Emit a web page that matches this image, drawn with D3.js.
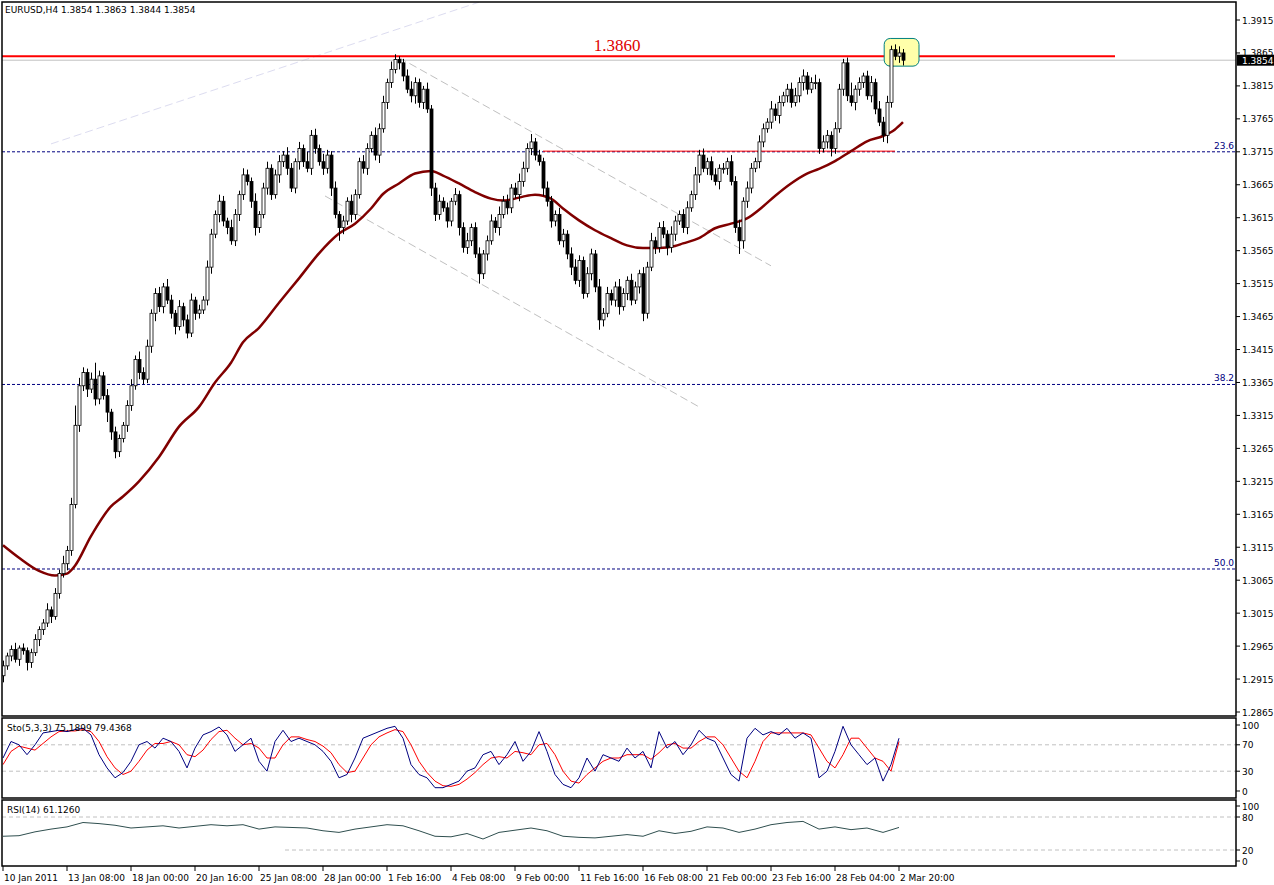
<!DOCTYPE html>
<html><head><meta charset="utf-8">
<script src="https://cdn.jsdelivr.net/npm/d3@7"></script>
<style>body{margin:0;background:#fff}svg{display:block;font-family:Tahoma,"DejaVu Sans",sans-serif}</style>
</head><body>
<script>
const closes = [
1.2935,1.2950,1.2960,1.2945,1.2962,1.2958,1.2940,1.2955,1.2975,1.2990,
1.3000,1.3020,1.3010,1.3045,1.3075,1.3090,1.3110,1.3180,1.3300,1.3360,
1.3380,1.3355,1.3370,1.3340,1.3375,1.3345,1.3320,1.3290,1.3260,1.3280,
1.3300,1.3330,1.3360,1.3400,1.3380,1.3370,1.3420,1.3470,1.3500,1.3480,
1.3510,1.3490,1.3470,1.3450,1.3480,1.3460,1.3440,1.3490,1.3470,1.3475,
1.3490,1.3540,1.3590,1.3620,1.3640,1.3610,1.3600,1.3580,1.3620,1.3650,
1.3680,1.3670,1.3640,1.3600,1.3620,1.3660,1.3690,1.3650,1.3680,1.3700,
1.3710,1.3690,1.3660,1.3700,1.3720,1.3700,1.3690,1.3740,1.3720,1.3700,
1.3690,1.3710,1.3660,1.3620,1.3600,1.3610,1.3640,1.3620,1.3650,1.3700,
1.3690,1.3720,1.3740,1.3710,1.3750,1.3790,1.3820,1.3840,1.3855,1.3850,
1.3830,1.3810,1.3800,1.3820,1.3790,1.3810,1.3780,1.3660,1.3620,1.3640,
1.3630,1.3610,1.3640,1.3650,1.3600,1.3570,1.3580,1.3600,1.3560,1.3530,
1.3560,1.3580,1.3610,1.3600,1.3620,1.3640,1.3630,1.3660,1.3650,1.3670,
1.3690,1.3720,1.3730,1.3710,1.3700,1.3660,1.3640,1.3610,1.3620,1.3580,
1.3590,1.3560,1.3540,1.3520,1.3550,1.3500,1.3530,1.3560,1.3510,1.3460,
1.3470,1.3500,1.3490,1.3510,1.3480,1.3500,1.3520,1.3490,1.3510,1.3530,
1.3470,1.3540,1.3580,1.3570,1.3600,1.3590,1.3570,1.3590,1.3610,1.3620,
1.3600,1.3630,1.3650,1.3680,1.3710,1.3690,1.3700,1.3680,1.3670,1.3690,
1.3690,1.3700,1.3670,1.3600,1.3580,1.3640,1.3660,1.3690,1.3700,1.3730,
1.3750,1.3760,1.3780,1.3770,1.3790,1.3800,1.3810,1.3790,1.3800,1.3820,
1.3830,1.3810,1.3820,1.3820,1.3720,1.3730,1.3740,1.3720,1.3750,1.3810,
1.3850,1.3800,1.3790,1.3810,1.3820,1.3830,1.3800,1.3820,1.3780,1.3760,
1.3740,1.3790,1.3870,1.3860,1.3865,1.3854];
const firstOpen = 1.2920;
// wick lengths above / below the body, in pips
const wickHi = [
8,5,6,10,4,7,5,6,8,5, 6,10,5,8,6,12,7,10,30,12, 8,6,10,25,8,6,10,5,8,6,
5,8,10,6,12,8,10,6,8,10, 6,12,8,5,10,6,8,10,5,8, 6,10,8,6,10,8,5,12,8,6,
10,8,6,12,5,8,10,6,8,10, 6,12,8,5,10,6,15,8,10,6, 12,8,6,10,5,8,6,10,8,6,
10,8,6,12,8,10,6,12,8,5, 6,10,12,8,6,5,10,6,8,10, 6,8,5,10,6,8,12,6,8,10,
6,8,10,6,12,8,10,6,8,12, 10,8,12,6,8,6,10,8,6,10, 8,6,10,12,8,6,10,8,6,12,
8,10,6,8,12,8,6,10,8,6, 10,8,12,6,8,10,6,12,8,6, 8,10,6,12,8,10,6,8,10,6,
8,6,10,8,12,6,10,8,6,10, 8,6,12,8,10,6,8,10,12,8, 10,6,8,12,6,10,8,6,10,8,
6,8,20,6,8,5, 8,10,6,12,8,10,6,8,10,6, 8,6,10,8,12,6,10,8,6,10,
8,6,12,8,10,6,8,10,12,8, 10,6,8,12,6,10,8,6,10,8, 6,8,30,10,8,5];
const wickLo = [
10,6,8,5,10,6,12,8,5,10, 8,6,10,5,8,6,10,8,6,10, 8,12,6,10,8,6,15,12,10,8,
6,10,8,6,10,8,6,10,12,8, 10,6,8,12,6,10,8,6,10,8, 6,8,10,6,12,8,10,6,8,10,
8,6,10,12,8,6,10,8,6,12, 8,10,6,8,12,8,6,10,8,6, 10,8,12,6,20,10,6,12,8,6,
8,10,6,8,12,6,10,8,6,10, 8,6,10,12,8,10,6,12,10,8, 6,10,8,6,12,8,10,8,6,15,
8,10,6,8,12,6,10,8,6,10, 8,6,10,8,6,12,8,10,8,6, 10,8,12,6,10,8,6,10,8,15,
10,6,8,10,12,6,10,8,6,10, 12,8,6,10,8,6,12,8,10,6, 8,10,6,8,12,6,10,8,6,12,
8,10,6,8,20,12,10,8,6,10, 8,6,10,8,12,6,10,8,6,10, 12,8,6,10,8,6,10,12,8,6,
10,8,6,12,10,8,6,10,8,6, 10,12,8,6,10,8,6,8,12,8, 12,10,8,6,8,6,10,8,6,12,
8,10,8,10,8,8];
// moving average, [candle index, value]
const maIdx = [0,4,9,13,16,18,22,27,30,34,39,44,49,53,57,60,64,69,74,79,84,88,92,95,99,103,107,110,114,118,122,125,128,130,133,137,140,144,148,152,156,160,164,168,170,174,178,182,186,190,193,197,201,204,208,212,216,220,223,225];
const maVal = [1.3118,1.3099,1.3079,1.3072,1.3075,1.3087,1.3132,1.3177,1.3192,1.3215,1.3252,1.3298,1.3328,1.3365,1.3395,1.3426,1.3448,1.3486,1.3523,1.3561,1.3591,1.3606,1.3629,1.3651,1.3667,1.3682,1.3686,1.3679,1.3667,1.3654,1.3644,1.3641,1.3644,1.3647,1.3650,1.3644,1.3629,1.3611,1.3596,1.3584,1.3573,1.3569,1.3569,1.3572,1.3576,1.3584,1.3599,1.3606,1.3614,1.3632,1.3648,1.3667,1.3682,1.3689,1.3701,1.3716,1.3731,1.3739,1.3749,1.3760];
// stochastic, one value every 2 candles
const stoMain = [50,75,70,55,70,88,90,92,90,93,95,85,55,35,20,28,45,70,75,65,80,75,60,35,65,85,90,97,85,60,70,80,45,30,75,92,75,80,75,70,60,45,20,25,50,80,85,90,95,98,80,40,25,20,5,5,10,15,30,35,55,60,40,55,75,45,60,90,60,25,10,5,20,50,30,55,50,45,65,50,60,35,90,65,75,55,70,92,80,75,50,25,15,80,95,85,90,85,95,80,88,80,20,30,60,98,70,55,40,50,15,40,80];
const stoSig = [40,60,68,65,62,72,82,90,91,91,93,90,75,52,35,25,30,45,62,72,72,75,70,55,52,62,78,90,92,80,70,72,65,50,50,70,82,82,78,75,68,58,40,28,30,50,70,82,88,93,90,70,45,28,15,8,7,10,18,28,40,50,52,50,60,58,55,70,72,55,30,15,12,25,35,45,50,50,55,55,55,48,58,70,72,65,65,75,82,82,70,50,30,20,45,75,88,88,88,88,88,85,65,45,35,55,80,80,65,50,45,30,75];
// RSI(14), one value every 4 candles
const rsiVals = [45,46,53,58,62,70,68,65,60,62,64,60,63,66,64,66,58,62,61,60,55,52,58,62,66,64,55,45,44,50,40,52,56,60,55,45,43,42,45,48,45,55,50,54,62,60,52,58,66,70,72,58,62,57,60,52,61];
const priceTicks = [1.3915,1.3865,1.3815,1.3765,1.3715,1.3665,1.3615,1.3565,1.3515,1.3465,1.3415,1.3365,1.3315,1.3265,1.3215,1.3165,1.3115,1.3065,1.3015,1.2965,1.2915,1.2865];
const timeLabels = ["10 Jan 2011","13 Jan 08:00","18 Jan 00:00","20 Jan 16:00","25 Jan 08:00","28 Jan 00:00","1 Feb 16:00","4 Feb 08:00","9 Feb 00:00","11 Feb 16:00","16 Feb 08:00","21 Feb 00:00","23 Feb 16:00","28 Feb 04:00","2 Mar 20:00"];
const fibLevels = [{v:1.3715,t:"23.6"},{v:1.3362,t:"38.2"},{v:1.3082,t:"50.0"}];
const trendLines = [
  {a:[99,1.3858],b:[192,1.3542],c:"#c0c0c0"},
  {a:[80.5,1.3648],b:[174,1.3328],c:"#c0c0c0"},
  {a:[12,1.3727],b:[119,1.3942],c:"#dcdcf0"}];
const resistance = 1.3860, lastPrice = 1.3854;

const W = 1274, H = 885, R = 1236;
const svg = d3.select("body").append("svg").attr("width", W).attr("height", H);
const x = d3.scaleLinear().domain([0, 308.25]).range([3, R]);
const y = d3.scaleLinear().domain([1.2865, 1.3915]).range([712, 20]);
const yS = d3.scaleLinear().domain([0, 100]).range([791, 725]);
const yR = d3.scaleLinear().domain([0, 100]).range([861, 806]);

const candles = closes.map((c, i) => {
  const o = i ? closes[i-1] : firstOpen;
  return {i, o, c, h: Math.max(o,c) + (wickHi[i] || 6)/10000, l: Math.min(o,c) - (wickLo[i] || 6)/10000};
});

const main = svg.append("g");
main.append("defs").append("clipPath").attr("id","cp").append("rect")
  .attr("x",2).attr("y",2).attr("width",R-2).attr("height",714);
const plot = main.append("g").attr("clip-path","url(#cp)");

// fib levels
plot.selectAll("line.fib").data(fibLevels).join("line")
  .attr("x1",2).attr("x2",R).attr("y1",d=>y(d.v)).attr("y2",d=>y(d.v))
  .attr("stroke","#000080").attr("stroke-dasharray","3,2");
plot.selectAll("text.fib").data(fibLevels).join("text")
  .attr("x",R-2).attr("y",d=>y(d.v)-3).attr("text-anchor","end")
  .attr("font-size",9).attr("fill","#000080").text(d=>d.t);

// trend lines
plot.selectAll("line.tr").data(trendLines).join("line")
  .attr("x1",d=>x(d.a[0])).attr("y1",d=>y(d.a[1])).attr("x2",d=>x(d.b[0])).attr("y2",d=>y(d.b[1]))
  .attr("stroke",d=>d.c).attr("stroke-dasharray","8,4");

// bid line
plot.append("line").attr("x1",2).attr("x2",R).attr("y1",y(lastPrice)).attr("y2",y(lastPrice)).attr("stroke","#c0c0c0");
// resistance
plot.append("line").attr("x1",2).attr("x2",1115).attr("y1",y(resistance)).attr("y2",y(resistance)).attr("stroke","#ff0000").attr("stroke-width",2);
plot.append("line").attr("x1",x(135)).attr("x2",x(223)).attr("y1",y(1.3716)).attr("y2",y(1.3716)).attr("stroke","#ff0000");
plot.append("text").attr("x",617).attr("y",y(resistance)-5).attr("text-anchor","middle")
  .attr("font-family","'Liberation Serif',serif").attr("font-size",17).attr("fill","#e00000").text("1.3860");

// highlight box
plot.append("rect").attr("x",x(220.3)).attr("y",y(1.3887)).attr("width",x(229)-x(220.3)).attr("height",y(1.3845)-y(1.3887))
  .attr("rx",6).attr("fill","#ffffaa").attr("stroke","#008080");

// MA
plot.append("path").datum(maIdx.map((d,k)=>[d,maVal[k]]))
  .attr("d", d3.line().x(d=>x(d[0])).y(d=>y(d[1])).curve(d3.curveMonotoneX))
  .attr("fill","none").attr("stroke","#800000").attr("stroke-width",2.5);

// candles
const cg = plot.selectAll("g.c").data(candles).join("g");
cg.append("line").attr("x1",d=>x(d.i)+0.5).attr("x2",d=>x(d.i)+0.5).attr("y1",d=>y(d.h)).attr("y2",d=>y(d.l)).attr("stroke","#000");
cg.append("rect").attr("x",d=>x(d.i)-1).attr("width",3)
  .attr("y",d=>y(Math.max(d.o,d.c))).attr("height",d=>Math.max(1,Math.abs(y(d.o)-y(d.c))))
  .attr("fill",d=>d.c>=d.o?"#fff":"#000").attr("stroke","#000").attr("stroke-width",0.8);

// price axis
svg.append("g").selectAll("g").data(priceTicks).join("g").each(function(p){
  const g = d3.select(this);
  g.append("line").attr("x1",R).attr("x2",R+4).attr("y1",y(p)).attr("y2",y(p)).attr("stroke","#000");
  g.append("text").attr("x",R+6).attr("y",y(p)+3.5).attr("font-size",9).text(p.toFixed(4));
});
svg.append("rect").attr("x",R+1).attr("y",y(lastPrice)-5.5).attr("width",37).attr("height",11).attr("fill","#000");
svg.append("text").attr("x",R+6).attr("y",y(lastPrice)+3.5).attr("font-size",9).attr("fill","#fff").text(lastPrice.toFixed(4));
svg.append("text").attr("x",5).attr("y",13).attr("font-size",9).text("EURUSD,H4  1.3854 1.3863 1.3844 1.3854");

// stochastic panel
const sg = svg.append("g");
[70,30].forEach(v=>sg.append("line").attr("x1",2).attr("x2",R).attr("y1",yS(v)).attr("y2",yS(v)).attr("stroke","#c0c0c0").attr("stroke-dasharray","4,3"));
const n = Math.min(stoMain.length, stoSig.length);
sg.append("path").datum(stoSig.slice(0,n)).attr("d",d3.line().x((d,k)=>x(k*2)).y(d=>yS(d))).attr("fill","none").attr("stroke","#ff0000");
sg.append("path").datum(stoMain.slice(0,n)).attr("d",d3.line().x((d,k)=>x(k*2)).y(d=>yS(d))).attr("fill","none").attr("stroke","#000080");
sg.append("text").attr("x",7).attr("y",731).attr("font-size",9).text("Sto(5,3,3) 75.1899 79.4368");
[100,70,30,0].forEach(v=>{
  sg.append("line").attr("x1",R).attr("x2",R+4).attr("y1",yS(v)).attr("y2",yS(v)).attr("stroke","#000");
  sg.append("text").attr("x",R+6).attr("y",yS(v)+3.5).attr("font-size",9).text(v);
});

// RSI panel
const rg = svg.append("g");
[80,20].forEach(v=>rg.append("line").attr("x1",v==20?285:2).attr("x2",R).attr("y1",yR(v)).attr("y2",yR(v)).attr("stroke","#c0c0c0").attr("stroke-dasharray","4,3"));
rg.append("path").datum(rsiVals).attr("d",d3.line().x((d,k)=>x(k*4)).y(d=>yR(d))).attr("fill","none").attr("stroke","#2f4f4f");
rg.append("text").attr("x",7).attr("y",813).attr("font-size",9).text("RSI(14) 61.1260");
[100,80,20,0].forEach(v=>{
  rg.append("line").attr("x1",R).attr("x2",R+4).attr("y1",yR(v)).attr("y2",yR(v)).attr("stroke","#000");
  rg.append("text").attr("x",R+6).attr("y",yR(v)+3.5).attr("font-size",9).text(v);
});

// frames
[[2,2,714],[2,718,80],[2,800,66]].forEach(f=>svg.append("rect").attr("x",f[0]).attr("y",f[1]).attr("width",R-f[0]).attr("height",f[2]).attr("fill","none").attr("stroke","#000").attr("stroke-width",1.5));

// time axis
const tg = svg.append("g");
timeLabels.forEach((t,k)=>{
  const xx = x(k*16);
  tg.append("line").attr("x1",xx).attr("x2",xx).attr("y1",866).attr("y2",871).attr("stroke","#000");
  tg.append("text").attr("x",xx+1).attr("y",881).attr("font-size",9).text(t);
});
</script>
</body></html>
